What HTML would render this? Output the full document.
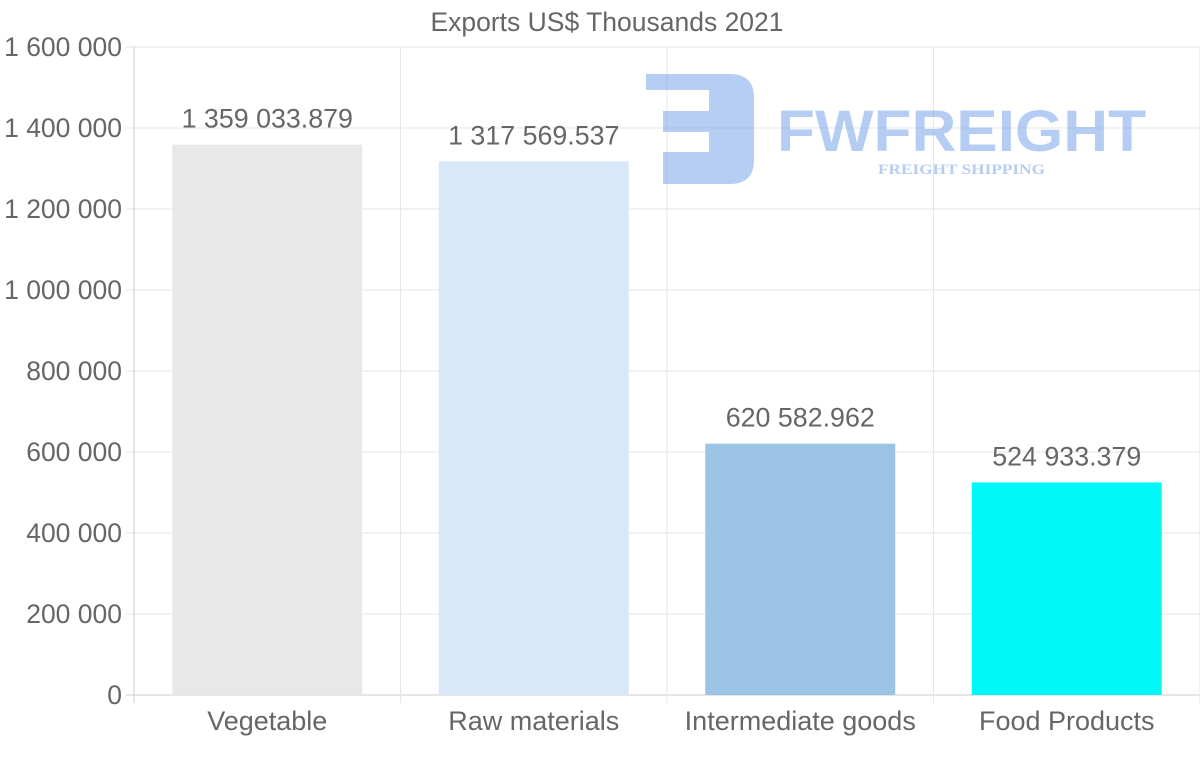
<!DOCTYPE html>
<html><head><meta charset="utf-8"><style>
body{margin:0;background:#fff;}
svg{display:block;font-family:"Liberation Sans",sans-serif;}
</style></head><body>
<svg id="chart" width="1200" height="763">
<text x="607" y="31" text-anchor="middle" font-size="26.5" fill="#666">Exports US$ Thousands 2021</text>
<g id="grid"></g>
<g id="logo" opacity="0.55">
<path d="M646,74 H730 Q754,74 754,98 V160 Q754,184 730,184 H663 V152 H709 V132 H663 V111 H709 V90 H646 Z" fill="#7aa5ea"/>
<text x="777" y="151" font-size="58" font-weight="bold" fill="#7aa5ea" textLength="369" lengthAdjust="spacingAndGlyphs">FWFREIGHT</text>
<text x="878" y="174" font-size="15" font-weight="bold" font-family="Liberation Serif,serif" fill="#7aa5ea" textLength="167" lengthAdjust="spacingAndGlyphs">FREIGHT SHIPPING</text>
</g>
<g id="bars"></g>
<g id="axes"></g>
</svg>
<script>
const categories=["Vegetable","Raw materials","Intermediate goods","Food Products"];
const values=[1359033.879,1317569.537,620582.962,524933.379];
const labels=["1 359 033.879","1 317 569.537","620 582.962","524 933.379"];
const colors=["#e8e8e8","#d9e8f8","#9ac3e6","#00f8f8"];
const yTicks=[0,200000,400000,600000,800000,1000000,1200000,1400000,1600000];
const yTickLabels=["0","200 000","400 000","600 000","800 000","1 000 000","1 200 000","1 400 000","1 600 000"];
const NS="http://www.w3.org/2000/svg";
const X0=134,X1=1200,Y0=695,Y1=47,YMAX=1600000;
const y=v=>Y0-(v/YMAX)*(Y0-Y1);
const bw=(X1-X0)/categories.length;
const xc=i=>X0+bw*(i+0.5);
function mk(t,a,p){const e=document.createElementNS(NS,t);for(const k in a)e.setAttribute(k,a[k]);p.appendChild(e);return e;}
const grid=document.getElementById('grid'),bars=document.getElementById('bars'),axes=document.getElementById('axes');
yTicks.forEach((t,i)=>{
 const l=mk('line',{x1:X0-8,x2:X1,y1:y(t),y2:y(t),stroke:i===0?'#ccc':'#e6e6e6'},grid);
 
 
 const tx=mk('text',{x:122,y:y(t)+9,'text-anchor':'end','font-size':26.5,fill:'#666'},axes);
 tx.textContent=yTickLabels[i];
 
 
});
for(let i=0;i<=categories.length;i++){
 const x=X0+bw*i;
 const l=mk('line',{x1:x,x2:x,y1:Y1,y2:Y0+8,stroke:i===0?'#ccc':'#e6e6e6'},grid);
 
 
}
categories.forEach((c,i)=>{
 const w=190;
 const r=mk('rect',{x:xc(i)-w/2,y:y(values[i]),width:w,height:Y0-y(values[i]),fill:colors[i]},bars);
 
 
 const vl=mk('text',{x:xc(i),y:y(values[i])-17,'text-anchor':'middle','font-size':26.8,fill:'#666'},bars);
 vl.textContent=labels[i];
 
 
 const xl=mk('text',{x:xc(i),y:730,'text-anchor':'middle','font-size':27,fill:'#666'},axes);
 xl.textContent=c;
 
 
});
</script>
</body></html>
